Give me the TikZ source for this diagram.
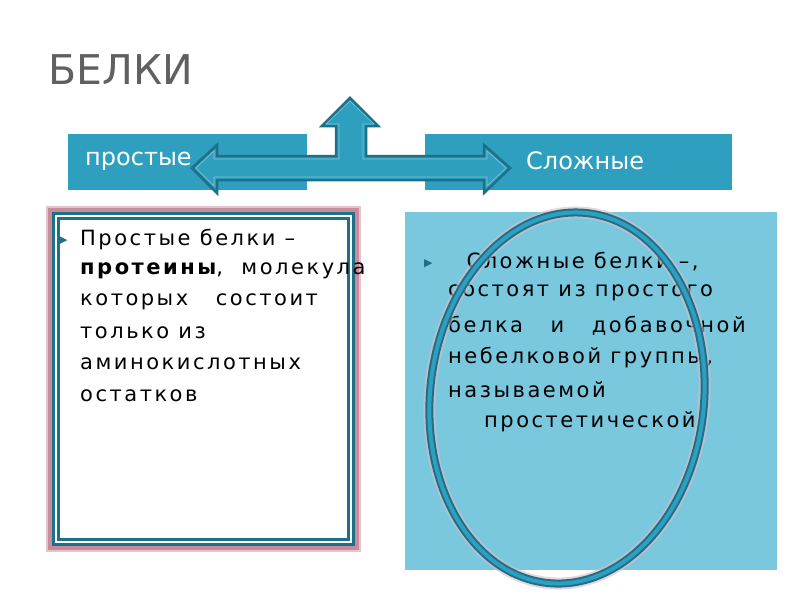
\documentclass[tikz,border=0pt]{standalone}
\usepackage{fontspec}
\setmainfont{DejaVu Sans}
\newfontfamily\bodyfont[LetterSpace=12]{DejaVu Sans}
\begin{document}
\begin{tikzpicture}[x=1pt,y=-1pt,
  txt/.style={anchor=west,font=\bodyfont\fontsize{21}{21}\selectfont,text=black,inner sep=0pt},
  hd/.style={anchor=west,text=white,font=\fontsize{24}{24}\selectfont,inner sep=0pt},
  bul/.style={anchor=west,font=\fontsize{11}{11}\selectfont,text=hdrc!70!black,inner sep=0pt}]
\definecolor{hdrc}{HTML}{2E9FBF}
\definecolor{lightc}{HTML}{7AC8DE}
\definecolor{dark}{HTML}{1E7089}
\definecolor{glow}{HTML}{C98A9A}
\path[use as bounding box] (0,0) rectangle (800,600);
\fill[white] (0,0) rectangle (800,600);
\node[anchor=west,font=\fontsize{41}{41}\selectfont,text=gray!75!black,inner sep=0pt] (title) at (48,70) {БЕЛКИ};
\fill[hdrc] (68,134) rectangle (307,190);
\fill[hdrc] (425,134) rectangle (732,190);
\node[hd] (p) at (85,161) {простые};
\node[hd] (s) at (526,161) {Сложные};
% left box
\draw[glow!50,line width=8pt] (50,210) rectangle (357,548);
\draw[glow,line width=4pt] (50,210) rectangle (357,548);
\fill[white] (52,212) rectangle (355,546);
\draw[dark,line width=3pt,double=white,double distance=1.2pt] (56,216) rectangle (351,542);
% right box
\fill[lightc] (405,212) rectangle (777,570);
% left text
\node[bul] (b1) at (59,241) {▶};
\node[txt] (l1) at (80,240) {Простые белки –};
\node[txt] (l2) at (80,271) {\textbf{протеины},\ \ молекула};
\node[txt] (l3) at (80,302) {которых\ \ \ состоит};
\node[txt] (l4) at (80,333) {только из};
\node[txt] (l5) at (80,364) {аминокислотных};
\node[txt] (l6) at (80,396) {остатков};
% right text
\node[bul] (b2) at (424,264) {▶};
\node[txt] (r1) at (448,262) {\ \ Сложные белки –,};
\node[txt] (r2) at (448,293) {состоят из простого};
\node[txt] (r3) at (448,326) {белка\ \ \ и\ \ \ добавочной};
\node[txt] (r4) at (448,358) {небелковой группы,};
\node[txt] (r5) at (448,390) {называемой};
\node[txt] (r6) at (484,422) {простетической.};
% ellipse (over text, as in reference)
\draw[glow!60,line width=12pt,opacity=0.6,rotate around={-6:(567,398)}] (567,398) ellipse[x radius=137,y radius=186];
\draw[dark,line width=8pt,rotate around={-6:(567,398)}] (567,398) ellipse[x radius=137,y radius=186];
\draw[hdrc,line width=4pt,rotate around={-6:(567,398)}] (567,398) ellipse[x radius=137,y radius=186];
% arrow
\draw[dark,line width=2.5pt,fill=hdrc,line join=miter]
 (350,98)--(378,126)--(366,126)--(366,156)--(484,156)--(484,145)--(510,168)--(484,193)--(484,180)--(217,180)--(217,193)--(192,168)--(217,145)--(217,156)--(336,156)--(336,126)--(322,126)--cycle;
\draw[hdrc!60!white,line width=0.6pt]
 (350,101)--(374,124)--(363,124)--(363,159)--(487,159)--(487,151)--(506,168)--(487,186)--(487,177)--(214,177)--(214,186)--(196,168)--(214,151)--(214,159)--(339,159)--(339,124)--(326,124)--cycle;
\end{tikzpicture}
\end{document}
